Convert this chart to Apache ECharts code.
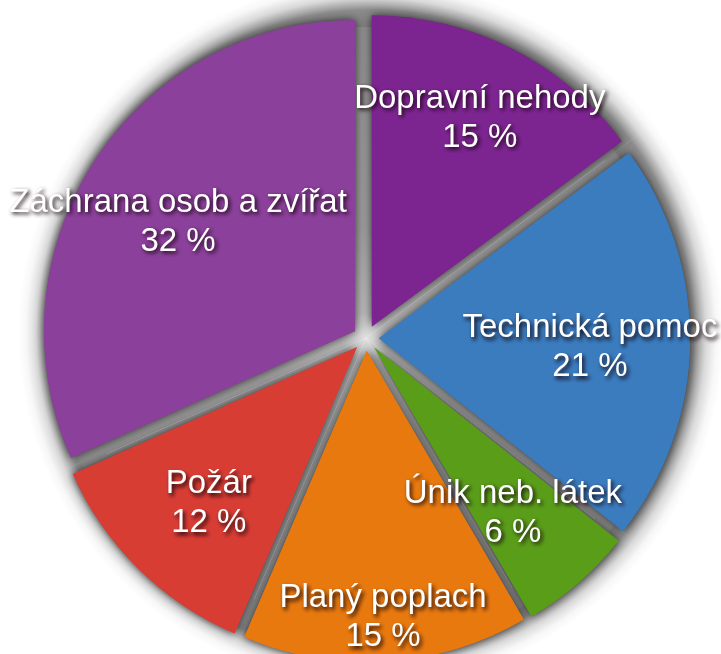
<!DOCTYPE html>
<html>
<head>
<meta charset="utf-8">
<script src="https://cdn.jsdelivr.net/npm/echarts@6/dist/echarts.min.js"></script>
<style>
html,body{margin:0;padding:0;background:#fff;}
#chart{width:721px;height:654px;}
</style>
</head>
<body>
<div id="chart"></div>
<script>
// Data
var categories = ['Dopravní nehody', 'Technická pomoc', 'Únik neb. látek', 'Planý poplach', 'Požár', 'Záchrana osob a zvířat'];
var values = [15, 21, 6, 15, 12, 32];
var colors = ['#7c2490', '#3a7cbe', '#599d19', '#e8790e', '#d83d34', '#8b409b'];
// which label ring each category's label sits on (0 = inner ring, 1 = middle, 2 = outer)
var labelRing = [1, 0, 0, 2, 0, 0];

var CX = 366, CY = 338, R = 311, OFF = 13;

var shadowStyle = { shadowBlur: 10, shadowColor: 'rgba(0,0,0,0.7)', shadowOffsetX: 0, shadowOffsetY: 0 };

function sliceData(opts) {
  return categories.map(function (name, i) {
    var item = { name: name, value: values[i] };
    if (opts.selected) item.selected = true;
    if (opts.color) {
      item.itemStyle = Object.assign({ color: opts.color(i), borderWidth: 0 }, opts.shadow ? shadowStyle : {});
      item.select = { itemStyle: Object.assign({ color: opts.color(i), borderWidth: 0 }, opts.shadow ? shadowStyle : {}) };
    }
    if (opts.labelShow) item.label = { show: opts.labelShow(i) };
    return item;
  });
}

var labelStyle = {
  position: 'inside',
  formatter: '{b}\n{c} %',
  color: '#ffffff',
  fontSize: 33,
  lineHeight: 39,
  fontFamily: 'Liberation Sans, Arial, Helvetica, sans-serif',
  textShadowColor: 'rgba(15,0,5,0.95)',
  textShadowBlur: 4,
  textShadowOffsetX: 2,
  textShadowOffsetY: 2.5
};

function labelSeries(ring, r0) {
  return {
    type: 'pie', silent: true, z: 10,
    center: [CX, CY + 6], radius: [r0, R],
    startAngle: 90, clockwise: true,
    avoidLabelOverlap: false,
    itemStyle: { color: 'rgba(0,0,0,0)', borderWidth: 0 },
    emphasis: { disabled: true },
    label: labelStyle,
    labelLine: { show: false },
    data: sliceData({ labelShow: function (i) { return labelRing[i] === ring; } })
  };
}

var haloColor = {
  type: 'radial', x: CX + 5, y: CY - 5, r: R + 42, global: true,
  colorStops: [
    { offset: 0, color: 'rgba(0,0,0,0.5)' },
    { offset: (R - 5) / (R + 42), color: 'rgba(0,0,0,0.5)' },
    { offset: (R + 12) / (R + 42), color: 'rgba(0,0,0,0.45)' },
    { offset: (R + 24) / (R + 42), color: 'rgba(0,0,0,0.15)' },
    { offset: (R + 34) / (R + 42), color: 'rgba(0,0,0,0.03)' },
    { offset: 1, color: 'rgba(0,0,0,0)' }
  ]
};

var chart = echarts.init(document.getElementById('chart'), null, { renderer: 'canvas' });
chart.setOption({
  backgroundColor: '#ffffff',
  animation: false,
  series: [
    {
      // soft shadow halo around the pie
      type: 'pie', silent: true, z: 0,
      center: [CX + 5, CY - 5], radius: [R - 20, R + 42],
      startAngle: 90, clockwise: true,
      label: { show: false }, labelLine: { show: false },
      emphasis: { disabled: true },
      data: sliceData({ color: function () { return haloColor; } })
    },
    {
      // gray backdrop seen through the gaps
      type: 'pie', silent: true, z: 1,
      center: [CX, CY], radius: [0, R],
      startAngle: 90, clockwise: true,
      label: { show: false }, labelLine: { show: false },
      emphasis: { disabled: true },
      data: sliceData({ color: function () {
        return {
          type: 'radial', x: CX, y: CY, r: R, global: true,
          colorStops: [
            { offset: 0, color: '#e0e0e0' },
            { offset: 0.08, color: '#b8b8b8' },
            { offset: 0.35, color: '#9c9c9c' },
            { offset: 1, color: '#8e8e8e' }
          ]
        };
      } })
    },
    {
      // exploded slices casting shadows into the gaps
      type: 'pie', silent: true, z: 2,
      center: [CX, CY], radius: [0, R],
      startAngle: 90, clockwise: true,
      selectedMode: 'multiple', selectedOffset: OFF,
      label: { show: false }, labelLine: { show: false },
      emphasis: { disabled: true },
      itemStyle: shadowStyle,
      data: sliceData({ selected: true, shadow: true, color: function (i) { return colors[i]; } })
    },
    {
      // clean exploded slices on top
      type: 'pie', silent: true, z: 3,
      center: [CX, CY], radius: [0, R],
      startAngle: 90, clockwise: true,
      selectedMode: 'multiple', selectedOffset: OFF,
      label: { show: false }, labelLine: { show: false },
      emphasis: { disabled: true },
      data: sliceData({ selected: true, color: function (i) { return colors[i]; } })
    },
    labelSeries(0, 131),
    labelSeries(1, 189),
    labelSeries(2, 231)
  ]
});
</script>
</body>
</html>
